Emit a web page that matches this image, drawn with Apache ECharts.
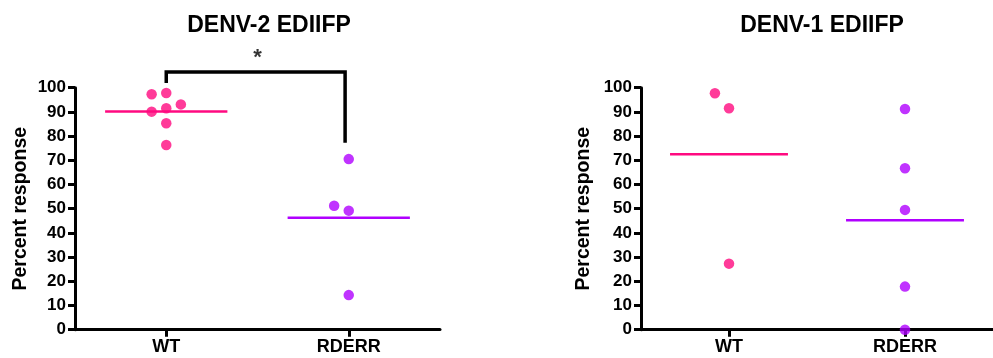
<!DOCTYPE html>
<html>
<head>
<meta charset="utf-8">
<script src="https://cdn.jsdelivr.net/npm/echarts@6/dist/echarts.min.js"></script>
<style>html,body{margin:0;padding:0;background:#fff;}#c{width:993px;height:358px;}</style>
</head>
<body>
<div id="c"></div>
<script>
// ---- data ----
const categories = ['WT', 'RDERR'];
const titles = ['DENV-2 EDIIFP', 'DENV-1 EDIIFP'];
const yTicks = [0, 10, 20, 30, 40, 50, 60, 70, 80, 90, 100];
const yAxisName = 'Percent response';

// DENV-2 panel
const d2WT = [97.3, 97.8, 93.1, 90.1, 91.5, 85.3, 76.3];
const d2WTJitter = [-1, 0, 1, -1, 0, 0, 0];
const d2RDERR = [70.5, 51.2, 49.2, 14.3];
const d2RDERRJitter = [0, -1, 0, 0];
const d2Means = [90.2, 46.3];
const d2Sig = '*';
const d2BracketTop = 106.5;
const d2BracketLegs = [101.9, 77.3];

// DENV-1 panel
const d1WT = [97.7, 91.5, 27.3];
const d1WTJitter = [-1, 0, 0];
const d1RDERR = [91.2, 66.7, 49.5, 17.8, 0];
const d1RDERRJitter = [0, 0, 0, 0, 0];
const d1Means = [72.5, 45.2];

// ---- styling ----
const PINK = '#FF0A80';
const PURPLE = '#B000FF';
const FONT = '"Liberation Sans", Arial, sans-serif';
const catPos = [1, 3];
const jitterStep = 0.16;
const halfMean = 0.67;

const chart = echarts.init(document.getElementById('c'), null, {renderer: 'canvas'});

function pts(vals, jit, ci) {
  return vals.map((v, i) => [catPos[ci] + jit[i] * jitterStep, v]);
}
function meanLine(v, ci) {
  return [[catPos[ci] - halfMean, v], [catPos[ci] + halfMean, v]];
}

const grids = [
  {left: 75, top: 87.7, width: 365, height: 242},
  {left: 641, top: 87.7, width: 365, height: 242}
];

function xAxis(gi) {
  return {
    gridIndex: gi, type: 'value', min: 0, max: 4, interval: 1,
    axisLine: {show: true, onZero: false, lineStyle: {color: '#000', width: 3}},
    axisTick: {show: true, length: 7, lineStyle: {color: '#000', width: 3}, customValues: catPos},
    axisLabel: {
      show: true, customValues: catPos, margin: 8,
      color: '#000', fontFamily: FONT, fontWeight: 'bold', fontSize: 18,
      formatter: v => categories[catPos.indexOf(v)] || ''
    },
    splitLine: {show: false}
  };
}
function yAxis(gi, gap) {
  return {
    gridIndex: gi, type: 'value', min: 0, max: 100, interval: 10,
    name: yAxisName, nameLocation: 'middle', nameGap: gap, nameRotate: 90,
    nameTextStyle: {color: '#000', fontFamily: FONT, fontWeight: 'bold', fontSize: 19.5},
    axisLine: {show: true, lineStyle: {color: '#000', width: 3}},
    axisTick: {show: true, length: 7, lineStyle: {color: '#000', width: 3}},
    axisLabel: {
      show: true, margin: 9, color: '#000', fontFamily: FONT, fontWeight: 'bold', fontSize: 17,
      customValues: yTicks
    },
    splitLine: {show: false}
  };
}

function scatter(gi, data, color) {
  return {
    type: 'scatter', xAxisIndex: gi, yAxisIndex: gi, data: data,
    symbol: 'circle', symbolSize: 10.5, clip: false, z: 3,
    itemStyle: {color: color}, silent: true
  };
}
function mean(gi, data, color) {
  return {
    type: 'line', xAxisIndex: gi, yAxisIndex: gi, data: data,
    symbol: 'none', clip: false, z: 2,
    lineStyle: {color: color, width: 2.5}, silent: true
  };
}

const bracket = [
  [catPos[0], d2BracketLegs[0]],
  [catPos[0], d2BracketTop],
  [catPos[1] - 0.04, d2BracketTop],
  [catPos[1] - 0.04, d2BracketLegs[1]]
];

const option = {
  animation: false,
  backgroundColor: '#fff',
  title: [
    {text: titles[0], left: 264, top: 9, textAlign: 'center',
     textStyle: {fontFamily: FONT, fontWeight: 'bold', fontSize: 23, color: '#000'}},
    {text: titles[1], left: 817, top: 9, textAlign: 'center',
     textStyle: {fontFamily: FONT, fontWeight: 'bold', fontSize: 23, color: '#000'}}
  ],
  grid: grids,
  xAxis: [xAxis(0), xAxis(1)],
  yAxis: [yAxis(0, 44), yAxis(1, 47)],
  series: [
    scatter(0, pts(d2WT, d2WTJitter, 0), PINK),
    scatter(0, pts(d2RDERR, d2RDERRJitter, 1), PURPLE),
    mean(0, meanLine(d2Means[0], 0), PINK),
    mean(0, meanLine(d2Means[1], 1), PURPLE),
    {
      type: 'line', xAxisIndex: 0, yAxisIndex: 0, data: bracket,
      symbol: 'none', clip: false, silent: true,
      lineStyle: {color: '#000', width: 3.5, join: 'miter', cap: 'butt'}
    },
    {
      type: 'scatter', xAxisIndex: 0, yAxisIndex: 0, clip: false, silent: true,
      data: [[(catPos[0] + catPos[1]) / 2, d2BracketTop + 6]],
      symbolSize: 0,
      label: {show: true, position: 'inside', formatter: d2Sig, color: '#000',
              fontFamily: FONT, fontWeight: 'bold', fontSize: 22}
    },
    scatter(1, pts(d1WT, d1WTJitter, 0), PINK),
    scatter(1, pts(d1RDERR, d1RDERRJitter, 1), PURPLE),
    mean(1, meanLine(d1Means[0], 0), PINK),
    mean(1, meanLine(d1Means[1], 1), PURPLE)
  ]
};
chart.setOption(option);
</script>
</body>
</html>
